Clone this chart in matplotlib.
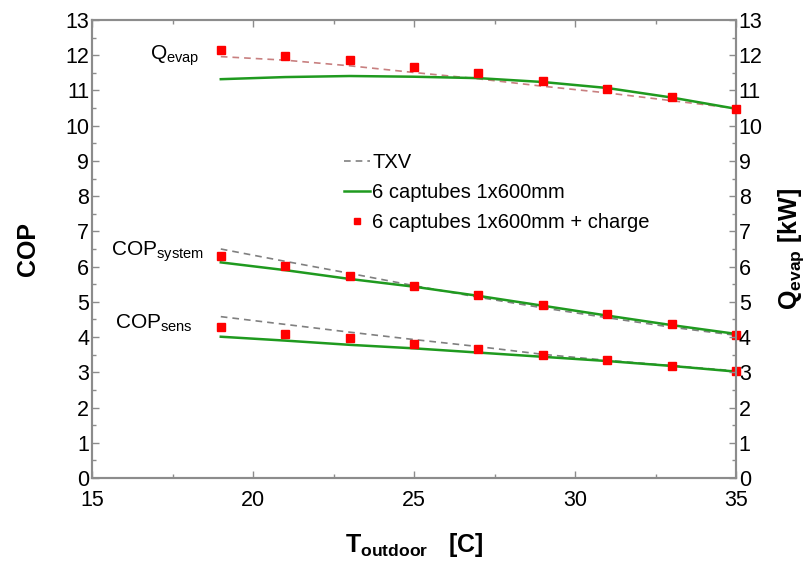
import numpy as np
import matplotlib
matplotlib.use("Agg")
from matplotlib import pyplot as plt
from matplotlib.ticker import MultipleLocator

plt.rcParams["font.family"] = ["Liberation Sans", "DejaVu Sans"]
plt.rcParams["mathtext.fontset"] = "custom"
plt.rcParams["mathtext.rm"] = "Liberation Sans"
plt.rcParams["mathtext.it"] = "Liberation Sans:italic"
plt.rcParams["mathtext.bf"] = "Liberation Sans:bold"

# outdoor temperature [C]
t_outdoor = [19, 21, 23, 25, 27, 29, 31, 33, 35]

# Q_evap [kW]
qevap_txv = [11.96, 11.86, 11.70, 11.51, 11.33, 11.12, 10.93, 10.71, 10.49]
qevap_cap = [11.32, 11.38, 11.41, 11.39, 11.35, 11.24, 11.07, 10.80, 10.48]
qevap_charge = [12.15, 11.99, 11.86, 11.67, 11.49, 11.28, 11.05, 10.81, 10.47]

# COP system
cops_txv = [6.50, 6.15, 5.81, 5.46, 5.13, 4.83, 4.55, 4.28, 4.05]
cops_cap = [6.12, 5.90, 5.65, 5.43, 5.17, 4.89, 4.61, 4.34, 4.09]
cops_charge = [6.31, 6.02, 5.74, 5.46, 5.19, 4.91, 4.65, 4.37, 4.07]

# COP sensible
cope_txv = [4.58, 4.36, 4.14, 3.93, 3.73, 3.51, 3.34, 3.19, 3.04]
cope_cap = [4.01, 3.90, 3.78, 3.68, 3.56, 3.44, 3.32, 3.18, 3.02]
cope_charge = [4.28, 4.10, 3.96, 3.79, 3.65, 3.50, 3.34, 3.19, 3.04]

green = "#1f9a1f"
spine_col = "#8c8c8c"

fig = plt.figure(figsize=(8.06, 5.61), dpi=100)
ax = fig.add_axes([92 / 806, 1 - 478 / 561, (736 - 92) / 806, (478 - 20) / 561])
ax2 = ax.twinx()

# COP curves on left axis
ax.plot(t_outdoor, cops_txv, color="#808080", lw=1.2, ls=(0, (4, 3)), label="TXV")
ax.plot(t_outdoor, cops_cap, color=green, lw=1.8, label="6 captubes 1x600mm")
ax.plot(t_outdoor, cops_charge, ls="none", marker="s", ms=5.8, color="red",
        label="6 captubes 1x600mm + charge", clip_on=False, zorder=5)
ax.plot(t_outdoor, cope_txv, color="#808080", lw=1.2, ls=(0, (4, 3)))
ax.plot(t_outdoor, cope_cap, color=green, lw=1.8)
ax.plot(t_outdoor, cope_charge, ls="none", marker="s", ms=5.8, color="red",
        clip_on=False, zorder=5)

# Q_evap on right axis
ax2.plot(t_outdoor, qevap_txv, color="#c88080", lw=1.2, ls=(0, (4, 3)))
ax2.plot(t_outdoor, qevap_cap, color=green, lw=1.8)
ax2.plot(t_outdoor, qevap_charge, ls="none", marker="s", ms=5.8, color="red",
         clip_on=False, zorder=5)

for a in (ax, ax2):
    a.set_xlim(15, 35)
    a.set_ylim(0, 13)
    a.yaxis.set_major_locator(MultipleLocator(1))
    a.yaxis.set_minor_locator(MultipleLocator(0.5))
    for s in a.spines.values():
        s.set_color(spine_col)
        s.set_linewidth(1.5)

ax.xaxis.set_major_locator(MultipleLocator(5))
ax.xaxis.set_minor_locator(MultipleLocator(2.5))
ax.tick_params(which="both", direction="in", top=True, colors=spine_col,
               labelcolor="black", labelsize=15.5, pad=2)
ax.tick_params(which="major", length=5, width=1)
ax.tick_params(which="minor", length=3, width=1)
ax.tick_params(axis="x", pad=9)
ax2.tick_params(which="both", direction="in", colors=spine_col,
                labelcolor="black", labelsize=15.5, pad=2)
ax2.tick_params(which="major", length=5, width=1)
ax2.tick_params(which="minor", length=3, width=1)

ax.set_xlabel(r"$\mathbf{T_{outdoor}}\ \ \ \mathbf{[C]}$", fontsize=18, labelpad=14)
ax.set_ylabel("COP", fontsize=18, fontweight="bold", labelpad=18)
ax2.set_ylabel(r"$\mathbf{Q_{evap}}\ \mathbf{[kW]}$", fontsize=18, labelpad=10)

ax.text(18.35, 11.98, r"$\mathrm{Q}_{\mathrm{evap}}$", fontsize=15, ha="right", va="center")
ax.text(18.48, 6.42, r"$\mathrm{COP}_{\mathrm{system}}$", fontsize=15, ha="right", va="center")
ax.text(18.14, 4.40, r"$\mathrm{COP}_{\mathrm{sens}}$", fontsize=15, ha="right", va="center")

ax.legend(loc="upper left", bbox_to_anchor=(344 / 806, 1 - 153 / 561),
          bbox_transform=fig.transFigure, frameon=False, fontsize=14.5,
          handlelength=1.3, handletextpad=0.1, labelspacing=0.55,
          borderpad=0, borderaxespad=0, markerscale=0.75)

fig.savefig("out.png", dpi=100)
